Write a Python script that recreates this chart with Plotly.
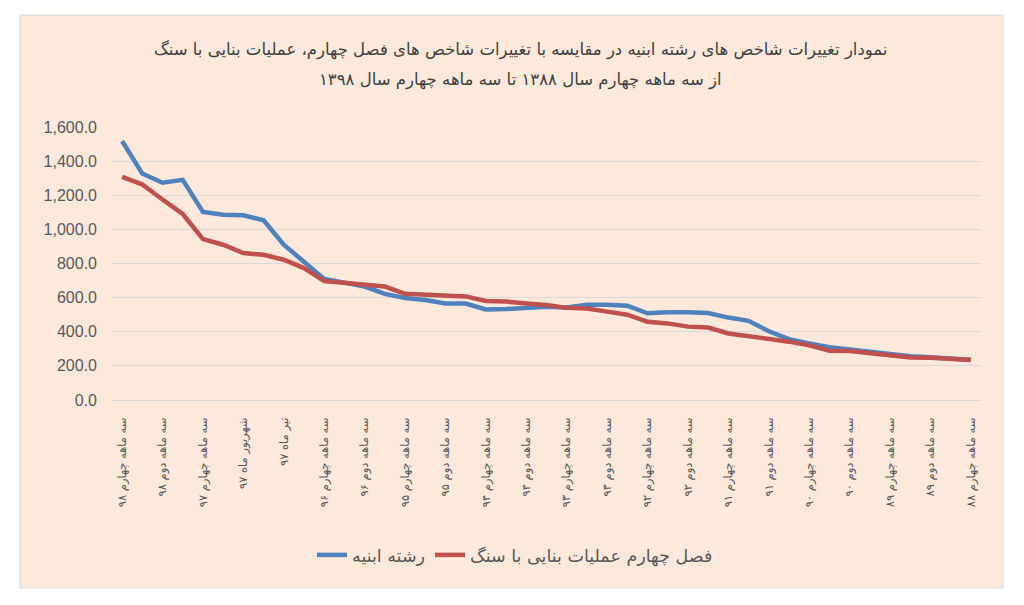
import plotly.graph_objects as go

# categories (left to right, newest first)
categories = [
    "سه ماهه چهارم ۹۸", "سه ماهه سوم ۹۸", "سه ماهه دوم ۹۸", "سه ماهه اول ۹۸",
    "سه ماهه چهارم ۹۷", "سه ماهه سوم ۹۷", "شهریور ماه ۹۷", "مرداد ماه ۹۷",
    "تیر ماه ۹۷", "سه ماهه اول ۹۷",
    "سه ماهه چهارم ۹۶", "سه ماهه سوم ۹۶", "سه ماهه دوم ۹۶", "سه ماهه اول ۹۶",
    "سه ماهه چهارم ۹۵", "سه ماهه سوم ۹۵", "سه ماهه دوم ۹۵", "سه ماهه اول ۹۵",
    "سه ماهه چهارم ۹۴", "سه ماهه سوم ۹۴", "سه ماهه دوم ۹۴", "سه ماهه اول ۹۴",
    "سه ماهه چهارم ۹۳", "سه ماهه سوم ۹۳", "سه ماهه دوم ۹۳", "سه ماهه اول ۹۳",
    "سه ماهه چهارم ۹۲", "سه ماهه سوم ۹۲", "سه ماهه دوم ۹۲", "سه ماهه اول ۹۲",
    "سه ماهه چهارم ۹۱", "سه ماهه سوم ۹۱", "سه ماهه دوم ۹۱", "سه ماهه اول ۹۱",
    "سه ماهه چهارم ۹۰", "سه ماهه سوم ۹۰", "سه ماهه دوم ۹۰", "سه ماهه اول ۹۰",
    "سه ماهه چهارم ۸۹", "سه ماهه سوم ۸۹", "سه ماهه دوم ۸۹", "سه ماهه اول ۸۹",
    "سه ماهه چهارم ۸۸",
]

# only every other label is shown on the axis
tick_labels = categories[::2]

# رشته ابنیه
abnieh = [1518, 1327, 1273, 1290, 1102, 1086, 1083, 1053, 910, 812,
          710, 688, 665, 622, 598, 586, 566, 565, 531, 533,
          541, 547, 542, 558, 558, 553, 508, 515, 515, 510,
          483, 464, 403, 357, 332, 310, 296, 282, 266, 256,
          250, 246, 236]

# فصل چهارم عملیات بنایی با سنگ
sang = [1308, 1263, 1175, 1090, 943, 910, 861, 851, 822, 773,
        697, 686, 676, 665, 622, 618, 613, 607, 580, 577,
        566, 557, 540, 536, 518, 500, 458, 449, 430, 425,
        390, 375, 358, 342, 320, 289, 287, 276, 262, 249,
        248, 244, 234]

title_line1 = "نمودار تغییرات شاخص های رشته ابنیه در مقایسه با تغییرات شاخص های فصل چهارم، عملیات بنایی با سنگ"
title_line2 = "از سه ماهه چهارم سال ۱۳۸۸ تا سه ماهه چهارم سال ۱۳۹۸"

fa_font = "DejaVu Sans"
grey = "#595959"

fig = go.Figure()
fig.add_trace(go.Scatter(x=categories, y=abnieh, mode="lines", name="رشته ابنیه",
                         line=dict(color="#4F81BD", width=4.5)))
fig.add_trace(go.Scatter(x=categories, y=sang, mode="lines", name="فصل چهارم عملیات بنایی با سنگ",
                         line=dict(color="#C0504D", width=4.5)))

# page body adds ~8px, so the figure is a bit smaller than the window
W, H = 1016, 597
l, r, t, b = 104, 43, 119, 205
pw, ph = W - l - r, H - t - b


def px(xp):
    return (xp - l) / pw


def py(yp):
    return (H - b - yp) / ph


# chart frame (peach box with thin grey border)
fig.add_shape(type="rect", xref="paper", yref="paper", layer="below",
              x0=px(12), x1=px(995), y0=py(580), y1=py(7),
              fillcolor="#FCE9DC", line=dict(color="#D9D9D9", width=1))

for txt, yy in [(title_line1, 42), (title_line2, 72)]:
    fig.add_annotation(text=txt, xref="paper", yref="paper", x=px(512), y=py(yy),
                       xanchor="center", yanchor="middle", showarrow=False,
                       font=dict(family=fa_font, size=16.5, color="#404040"))

fig.update_layout(
    width=W, height=H,
    margin=dict(l=l, r=r, t=t, b=b),
    paper_bgcolor="white",
    plot_bgcolor="rgba(0,0,0,0)",
    xaxis=dict(
        type="category",
        range=[-0.5, len(categories) - 0.5],
        tickmode="array", tickvals=tick_labels, ticktext=tick_labels,
        tickangle=-90,
        ticklabelstandoff=12,
        tickfont=dict(family=fa_font, size=11.5, color=grey),
        showgrid=False, showline=True, linecolor="#D9D9D9", linewidth=1,
        zeroline=False,
    ),
    yaxis=dict(
        range=[0, 1600], dtick=200, tickformat=",.1f",
        tickfont=dict(family="Liberation Sans", size=16, color=grey),
        gridcolor="#D9D9D9", gridwidth=1, zeroline=False,
        ticklabelstandoff=14,
    ),
    legend=dict(
        orientation="h", x=px(507), xanchor="center", y=py(547), yanchor="middle",
        font=dict(family=fa_font, size=17.5, color=grey),
        bgcolor="rgba(0,0,0,0)",
    ),
)

fig.write_html("out.html")
